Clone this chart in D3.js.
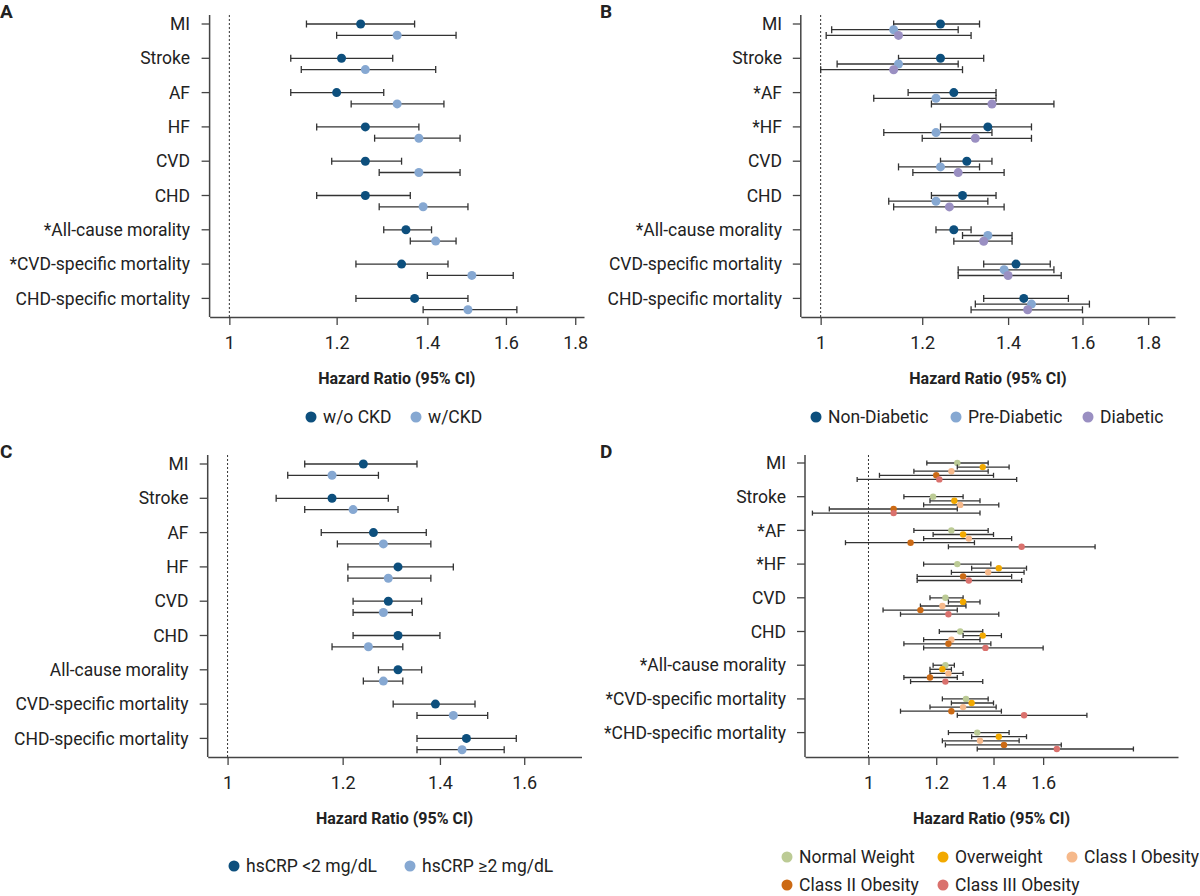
<!DOCTYPE html>
<html>
<head>
<meta charset="utf-8">
<script src="https://cdn.jsdelivr.net/npm/d3@7"></script>
<style>
  body { margin: 0; background: #fff; }
  text { font-family: "Roboto", sans-serif; fill: #222; }
</style>
</head>
<body>
<div id="chart"></div>
<script>
var W = 1200, H = 896;
var cats = ["MI", "Stroke", "AF", "HF", "CVD", "CHD", "All-cause morality", "CVD-specific mortality", "CHD-specific mortality"];

// [hr, lo, hi] per outcome, per series
var panels = [
  {
    letter: "A", ox: 0, oy: 0, x0: 209.6, x1: 584, dom: [0.967, 1.827], ticks: [1, 1.2, 1.4, 1.6, 1.8],
    labelX: 190, step: 34.3, gap: 11.3, r: 4.5, cap: 3.5,
    labels: ["MI", "Stroke", "AF", "HF", "CVD", "CHD", "*All-cause morality", "*CVD-specific mortality", "CHD-specific mortality"],
    series: [
      { name: "w/o CKD", color: "#0d4f7d", lx: 311, ly: 417, data: [[1.25,1.14,1.37],[1.21,1.11,1.32],[1.20,1.11,1.30],[1.26,1.16,1.38],[1.26,1.19,1.34],[1.26,1.16,1.36],[1.35,1.30,1.41],[1.34,1.24,1.45],[1.37,1.24,1.50]] },
      { name: "w/CKD", color: "#86a8d2", lx: 416, ly: 417, data: [[1.33,1.20,1.47],[1.26,1.13,1.42],[1.33,1.23,1.44],[1.38,1.28,1.48],[1.38,1.29,1.48],[1.39,1.29,1.50],[1.42,1.36,1.47],[1.51,1.40,1.62],[1.50,1.39,1.63]] }
    ]
  },
  {
    letter: "B", ox: 600, oy: 0, x0: 200.8, x1: 575, dom: [0.965, 1.889], ticks: [1, 1.2, 1.4, 1.6, 1.8],
    labelX: 182, step: 34.3, gap: 5.7, r: 4.5, cap: 3.5,
    labels: ["MI", "Stroke", "*AF", "*HF", "CVD", "CHD", "*All-cause morality", "CVD-specific mortality", "CHD-specific mortality"],
    series: [
      { name: "Non-Diabetic", color: "#0d4f7d", lx: 216, ly: 417, data: [[1.24,1.14,1.33],[1.24,1.15,1.34],[1.27,1.17,1.37],[1.35,1.24,1.46],[1.30,1.24,1.36],[1.29,1.22,1.37],[1.27,1.23,1.31],[1.42,1.34,1.51],[1.44,1.34,1.56]] },
      { name: "Pre-Diabetic", color: "#86a8d2", lx: 356, ly: 417, data: [[1.14,1.02,1.28],[1.15,1.03,1.28],[1.23,1.10,1.37],[1.23,1.12,1.36],[1.24,1.15,1.33],[1.23,1.13,1.35],[1.35,1.29,1.41],[1.39,1.28,1.52],[1.46,1.32,1.62]] },
      { name: "Diabetic", color: "#9a8fc2", lx: 488, ly: 417, data: [[1.15,1.01,1.31],[1.14,1.00,1.29],[1.36,1.22,1.52],[1.32,1.20,1.46],[1.28,1.18,1.39],[1.26,1.14,1.39],[1.34,1.27,1.41],[1.40,1.28,1.54],[1.45,1.31,1.60]] }
    ]
  },
  {
    letter: "C", ox: 0, oy: 440, x0: 207.7, x1: 581.5, dom: [0.969, 1.752], ticks: [1, 1.2, 1.4, 1.6],
    labelX: 188.5, step: 34.3, gap: 11.3, r: 4.5, cap: 3.5,
    labels: ["MI", "Stroke", "AF", "HF", "CVD", "CHD", "All-cause morality", "CVD-specific mortality", "CHD-specific mortality"],
    series: [
      { name: "hsCRP <2 mg/dL", color: "#0d4f7d", lx: 234, ly: 426, data: [[1.24,1.13,1.35],[1.18,1.08,1.29],[1.26,1.16,1.37],[1.31,1.21,1.43],[1.29,1.22,1.36],[1.31,1.22,1.40],[1.31,1.27,1.36],[1.39,1.30,1.48],[1.46,1.35,1.58]] },
      { name: "hsCRP \u22652 mg/dL", color: "#86a8d2", lx: 410, ly: 426, data: [[1.18,1.10,1.27],[1.22,1.13,1.31],[1.28,1.19,1.38],[1.29,1.21,1.38],[1.28,1.22,1.34],[1.25,1.18,1.32],[1.28,1.24,1.32],[1.43,1.35,1.51],[1.45,1.35,1.55]] }
    ]
  },
  {
    letter: "D", ox: 600, oy: 440, x0: 205, x1: 578, dom: [0.843, 2.30], ticks: [1, 1.2, 1.4, 1.6],
    labelX: 186, step: 33.7, gap: 4.1, r: 3.2, cap: 2.5, first: 23,
    labels: ["MI", "Stroke", "*AF", "*HF", "CVD", "CHD", "*All-cause morality", "*CVD-specific mortality", "*CHD-specific mortality"],
    series: [
      { name: "Normal Weight", color: "#bccb95", lx: 187, ly: 417, data: [[1.27,1.17,1.38],[1.19,1.10,1.29],[1.25,1.13,1.38],[1.27,1.16,1.39],[1.23,1.18,1.29],[1.28,1.21,1.36],[1.23,1.19,1.26],[1.30,1.22,1.38],[1.34,1.24,1.46]] },
      { name: "Overweight", color: "#f2a900", lx: 343, ly: 417, data: [[1.36,1.27,1.46],[1.26,1.18,1.35],[1.29,1.19,1.40],[1.42,1.32,1.53],[1.29,1.24,1.35],[1.36,1.29,1.43],[1.22,1.18,1.25],[1.32,1.25,1.40],[1.42,1.32,1.53]] },
      { name: "Class I Obesity", color: "#f6b98b", lx: 472, ly: 417, data: [[1.25,1.13,1.38],[1.28,1.16,1.42],[1.31,1.16,1.47],[1.38,1.25,1.52],[1.22,1.15,1.30],[1.25,1.16,1.35],[1.24,1.18,1.29],[1.29,1.18,1.41],[1.35,1.22,1.50]] },
      { name: "Class II Obesity", color: "#cc6a14", lx: 187, ly: 445, data: [[1.20,1.03,1.40],[1.07,0.90,1.27],[1.12,0.94,1.33],[1.29,1.14,1.47],[1.15,1.04,1.27],[1.24,1.10,1.39],[1.18,1.10,1.27],[1.25,1.09,1.43],[1.44,1.23,1.68]] },
      { name: "Class III Obesity", color: "#da716d", lx: 343, ly: 445, data: [[1.21,0.97,1.49],[1.07,0.86,1.35],[1.51,1.24,1.84],[1.31,1.14,1.51],[1.24,1.09,1.42],[1.37,1.16,1.60],[1.23,1.12,1.36],[1.52,1.27,1.80],[1.66,1.34,2.04]] }
    ]
  }
];

var svg = d3.select("#chart").append("svg").attr("width", W).attr("height", H);

panels.forEach(function (p) {
  var g = svg.append("g").attr("transform", "translate(" + p.ox + "," + p.oy + ")");
  var first = p.first || 24;
  var x = d3.scaleLog().domain(p.dom).range([p.x0, p.x1]);
  var y = d3.scaleLinear().domain([0, cats.length - 1]).range([first, first + (cats.length - 1) * p.step]);
  var top = 15, bottom = 317;

  g.append("text").attr("x", 0).attr("y", 18).text(p.letter)
    .style("font-weight", "bold").style("font-size", "19px");

  // axes
  var xAxis = d3.axisBottom(x).tickValues(p.ticks).tickFormat(d3.format("")).tickSize(8).tickSizeOuter(0);
  var ax = g.append("g").attr("transform", "translate(0," + bottom + ")").call(xAxis);
  ax.select(".domain").attr("stroke", "#444").attr("stroke-width", 1.5);
  ax.selectAll(".tick line").attr("stroke", "#444").attr("stroke-width", 1.3);
  ax.selectAll(".tick text").attr("dy", 21).style("font-size", "18px").style("font-family", "Roboto, sans-serif").attr("fill", "#222");

  g.append("line").attr("x1", p.x0).attr("x2", p.x0).attr("y1", top).attr("y2", bottom)
    .attr("stroke", "#444").attr("stroke-width", 1.5);

  g.selectAll(".ytick").data(cats).enter().append("line")
    .attr("x1", p.x0 - 8).attr("x2", p.x0).attr("y1", function (d, i) { return y(i); }).attr("y2", function (d, i) { return y(i); })
    .attr("stroke", "#444").attr("stroke-width", 1.3);

  g.selectAll(".ylab").data(p.labels).enter().append("text")
    .attr("x", p.labelX).attr("y", function (d, i) { return y(i); }).attr("dy", "0.35em")
    .attr("text-anchor", "end").style("font-size", "17.5px").text(function (d) { return d; });

  // reference line at HR = 1
  g.append("line").attr("x1", x(1)).attr("x2", x(1)).attr("y1", top).attr("y2", bottom)
    .attr("stroke", "#333").attr("stroke-dasharray", "2,2").attr("stroke-width", 1);

  g.append("text").attr("x", (p.x0 + p.x1) / 2).attr("y", 384).attr("text-anchor", "middle")
    .style("font-weight", "bold").style("font-size", "16px").text("Hazard Ratio (95% CI)");

  p.series.forEach(function (s, si) {
    var sg = g.append("g");
    var yy = function (d, i) { return y(i) + si * p.gap; };
    sg.selectAll(".ci").data(s.data).enter().append("line")
      .attr("x1", function (d) { return x(d[1]); }).attr("x2", function (d) { return x(d[2]); })
      .attr("y1", yy).attr("y2", yy).attr("stroke", "#333").attr("stroke-width", 1.3);
    [1, 2].forEach(function (k) {
      sg.selectAll(".cap" + k).data(s.data).enter().append("line")
        .attr("x1", function (d) { return x(d[k]); }).attr("x2", function (d) { return x(d[k]); })
        .attr("y1", function (d, i) { return yy(d, i) - p.cap; }).attr("y2", function (d, i) { return yy(d, i) + p.cap; })
        .attr("stroke", "#333").attr("stroke-width", 1.3);
    });
    sg.selectAll("circle").data(s.data).enter().append("circle")
      .attr("cx", function (d) { return x(d[0]); }).attr("cy", yy).attr("r", p.r).attr("fill", s.color);

    // legend
    g.append("circle").attr("cx", s.lx).attr("cy", s.ly).attr("r", 5.5).attr("fill", s.color);
    g.append("text").attr("x", s.lx + 12).attr("y", s.ly).attr("dy", "0.35em")
      .style("font-size", "17.5px").text(s.name);
  });
});
</script>
</body>
</html>
